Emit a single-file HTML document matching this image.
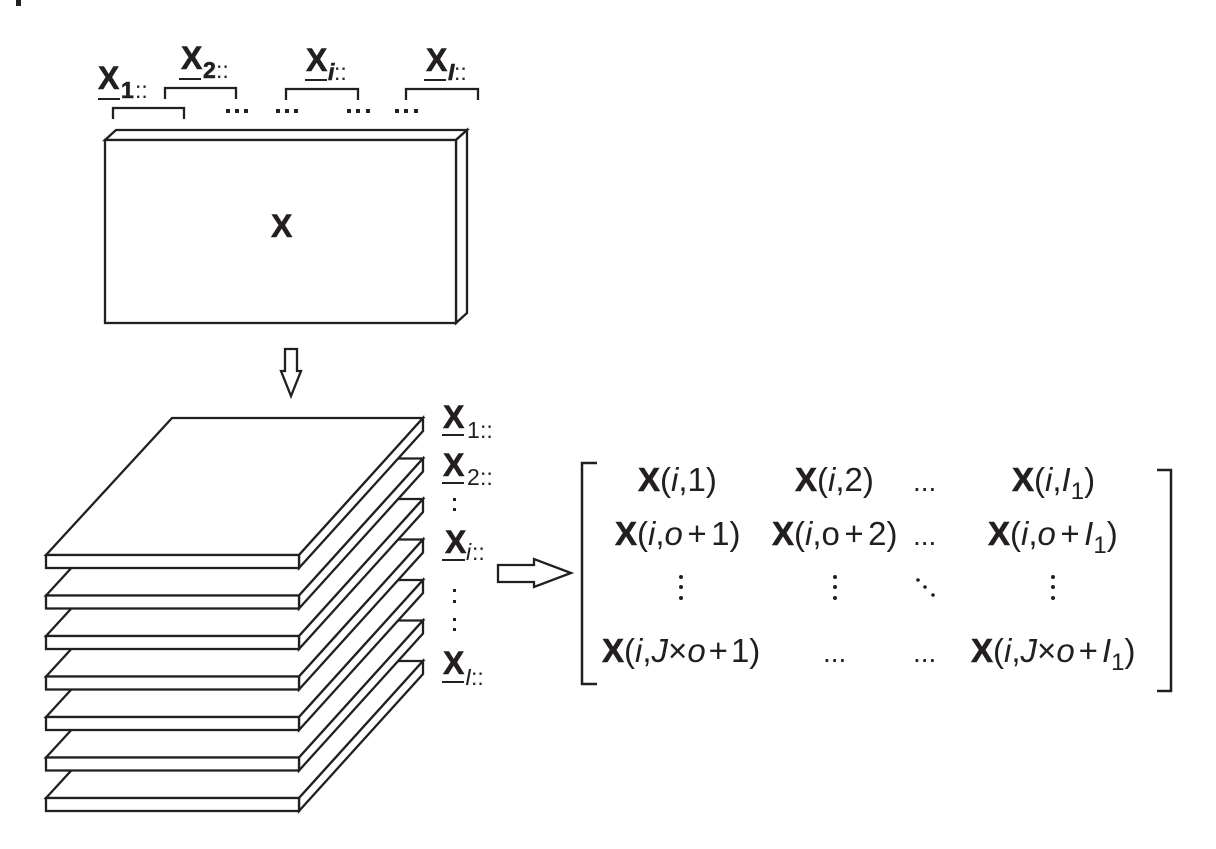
<!DOCTYPE html>
<html><head><meta charset="utf-8">
<style>
html,body{margin:0;padding:0;background:#fff}
svg{display:block}
text{font-family:"Liberation Sans",sans-serif;fill:#231f20}
.b{font-weight:bold;stroke:#231f20;stroke-width:.6}
.i{font-style:italic}
</style></head>
<body>
<svg width="1216" height="849" viewBox="0 0 1216 849" xmlns="http://www.w3.org/2000/svg">
<rect width="1216" height="849" fill="#fff"/>
<rect x="16" y="0" width="5" height="6" fill="#231f20"/>

<!-- top block -->
<g fill="#fff" stroke="#231f20" stroke-width="2.3" stroke-linejoin="miter">
<path d="M105 140L116 130H467L456 140Z"/>
<path d="M456 140L467 130V313L456 323Z"/>
<rect x="105" y="140" width="351" height="183"/>
</g>
<text x="271" y="237" class="b" font-size="32">X</text>

<!-- brackets -->
<g fill="none" stroke="#231f20" stroke-width="2.3">
<path d="M113 119V108H184V119"/>
<path d="M165 99V88H236V99"/>
<path d="M286 100V89H358V100"/>
<path d="M406 100V89H478V100"/>
</g>
<g fill="#231f20">
<rect x="98" y="98" width="22" height="2"/>
<rect x="179" y="78" width="22" height="2"/>
<rect x="305" y="79" width="22" height="2"/>
<rect x="424" y="79" width="22" height="2"/>
</g>
<text x="98" y="89" class="b" font-size="32">X</text>
<text x="121" y="98" class="b" font-size="23">1</text>
<text x="135" y="98" font-size="23">::</text>
<text x="181" y="69" class="b" font-size="32">X</text>
<text x="203" y="78" class="b" font-size="23">2</text>
<text x="216" y="78" font-size="23">::</text>
<text x="306" y="71" class="b" font-size="32">X</text>
<text x="328" y="80" class="b i" font-size="23">i</text>
<text x="334" y="80" font-size="23">::</text>
<text x="426" y="71" class="b" font-size="32">X</text>
<text x="448" y="80" class="b i" font-size="23">I</text>
<text x="454" y="80" font-size="23">::</text>
<g fill="#231f20">
<rect x="226" y="109" width="4" height="4"/><rect x="235" y="109" width="4" height="4"/><rect x="244" y="109" width="4" height="4"/>
<rect x="276" y="109" width="4" height="4"/><rect x="285" y="109" width="4" height="4"/><rect x="294" y="109" width="4" height="4"/>
<rect x="347" y="109" width="4" height="4"/><rect x="356" y="109" width="4" height="4"/><rect x="366" y="109" width="4" height="4"/>
<rect x="395" y="109" width="4" height="4"/><rect x="404" y="109" width="4" height="4"/><rect x="414" y="109" width="4" height="4"/>
</g>

<!-- down arrow -->
<path d="M285 349H297V371H301L291 396L281 371H285Z" fill="#fff" stroke="#231f20" stroke-width="2.3"/>

<!-- stacked plates, bottom to top -->
<g fill="#fff" stroke="#231f20" stroke-width="2.3">
<g transform="translate(0,243)"><path d="M46 555L172 418H423L299 555Z"/><path d="M299 555L423 418V431L299 568Z"/><rect x="46" y="555" width="253" height="13"/></g>
<g transform="translate(0,202.5)"><path d="M46 555L172 418H423L299 555Z"/><path d="M299 555L423 418V431L299 568Z"/><rect x="46" y="555" width="253" height="13"/></g>
<g transform="translate(0,162)"><path d="M46 555L172 418H423L299 555Z"/><path d="M299 555L423 418V431L299 568Z"/><rect x="46" y="555" width="253" height="13"/></g>
<g transform="translate(0,121.5)"><path d="M46 555L172 418H423L299 555Z"/><path d="M299 555L423 418V431L299 568Z"/><rect x="46" y="555" width="253" height="13"/></g>
<g transform="translate(0,81)"><path d="M46 555L172 418H423L299 555Z"/><path d="M299 555L423 418V431L299 568Z"/><rect x="46" y="555" width="253" height="13"/></g>
<g transform="translate(0,40.5)"><path d="M46 555L172 418H423L299 555Z"/><path d="M299 555L423 418V431L299 568Z"/><rect x="46" y="555" width="253" height="13"/></g>
<g><path d="M46 555L172 418H423L299 555Z"/><path d="M299 555L423 418V431L299 568Z"/><rect x="46" y="555" width="253" height="13"/></g>
</g>

<!-- slice labels -->
<g fill="#231f20">
<rect x="442" y="434" width="22" height="2"/>
<rect x="442" y="482" width="22" height="2"/>
<rect x="442" y="559" width="23" height="2"/>
<rect x="442" y="681" width="22" height="2"/>
<rect x="453" y="498" width="3" height="3"/><rect x="453" y="508" width="3" height="3"/>
<rect x="453" y="589" width="3" height="3"/><rect x="453" y="600" width="3" height="3"/>
<rect x="453" y="618" width="3" height="3"/><rect x="453" y="628" width="3" height="3"/>
</g>
<text x="443" y="428" class="b" font-size="32">X</text>
<text x="467" y="438" font-size="23">1</text><text x="480" y="438" font-size="23">::</text>
<text x="443" y="476" class="b" font-size="32">X</text>
<text x="467" y="485" font-size="23">2</text><text x="480" y="485" font-size="23">::</text>
<text x="445" y="553" class="b" font-size="32">X</text>
<text x="466" y="560" class="i" font-size="23">i</text><text x="472" y="560" font-size="23">::</text>
<text x="443" y="674" class="b" font-size="32">X</text>
<text x="465" y="685" class="i" font-size="23">I</text><text x="471" y="685" font-size="23">::</text>

<!-- right arrow -->
<path d="M498 565H534V559L571 573L534 587V582H498Z" fill="#fff" stroke="#231f20" stroke-width="2.3"/>

<!-- matrix brackets -->
<g fill="none" stroke="#231f20" stroke-width="2.5">
<path d="M597 463H582V684H597"/>
<path d="M1157 470H1171V691H1157"/>
</g>

<!-- matrix -->
<g font-size="33">
<text x="638" y="491"><tspan class="b">X</tspan>(<tspan class="i">i</tspan>,1)</text>
<text x="795" y="491"><tspan class="b">X</tspan>(<tspan class="i">i</tspan>,2)</text>
<text x="1012" y="491"><tspan class="b">X</tspan>(<tspan class="i">i</tspan>,<tspan class="i">I</tspan><tspan font-size="24" dy="8">1</tspan><tspan dy="-8">)</tspan></text>

<text x="615" y="545"><tspan class="b">X</tspan>(<tspan class="i">i</tspan>,<tspan class="i">o</tspan><tspan dx="4.5">+</tspan><tspan dx="4.5">1)</tspan></text>
<text x="772" y="545"><tspan class="b">X</tspan>(<tspan class="i">i</tspan>,o<tspan dx="4.5">+</tspan><tspan dx="4.5">2)</tspan></text>
<text x="988" y="545"><tspan class="b">X</tspan>(<tspan class="i">i</tspan>,<tspan class="i">o</tspan><tspan dx="4.5">+</tspan><tspan dx="4.5" class="i">I</tspan><tspan font-size="24" dy="8">1</tspan><tspan dy="-8">)</tspan></text>

<text x="602" y="662"><tspan class="b">X</tspan>(<tspan class="i">i</tspan>,<tspan class="i">J</tspan>×<tspan class="i">o</tspan><tspan dx="3">+</tspan><tspan dx="3">1)</tspan></text>
<text x="971" y="662"><tspan class="b">X</tspan>(<tspan class="i">i</tspan>,<tspan class="i">J</tspan>×<tspan class="i">o</tspan><tspan dx="4">+</tspan><tspan dx="4" class="i">I</tspan><tspan font-size="24" dy="8">1</tspan><tspan dy="-8">)</tspan></text>
</g>
<g font-size="28">
<text x="913" y="491">...</text>
<text x="913" y="545">...</text>
<text x="823" y="662">...</text>
<text x="913" y="662">...</text>
</g>
<g fill="#231f20">
<circle cx="681" cy="577" r="2"/><circle cx="681" cy="587" r="2"/><circle cx="681" cy="598" r="2"/>
<circle cx="835" cy="577" r="2"/><circle cx="835" cy="587" r="2"/><circle cx="835" cy="598" r="2"/>
<circle cx="918" cy="580" r="1.8"/><circle cx="925" cy="587" r="1.8"/><circle cx="933" cy="595" r="1.8"/>
<circle cx="1053" cy="577" r="2"/><circle cx="1053" cy="587" r="2"/><circle cx="1053" cy="598" r="2"/>
</g>
</svg>
</body></html>
